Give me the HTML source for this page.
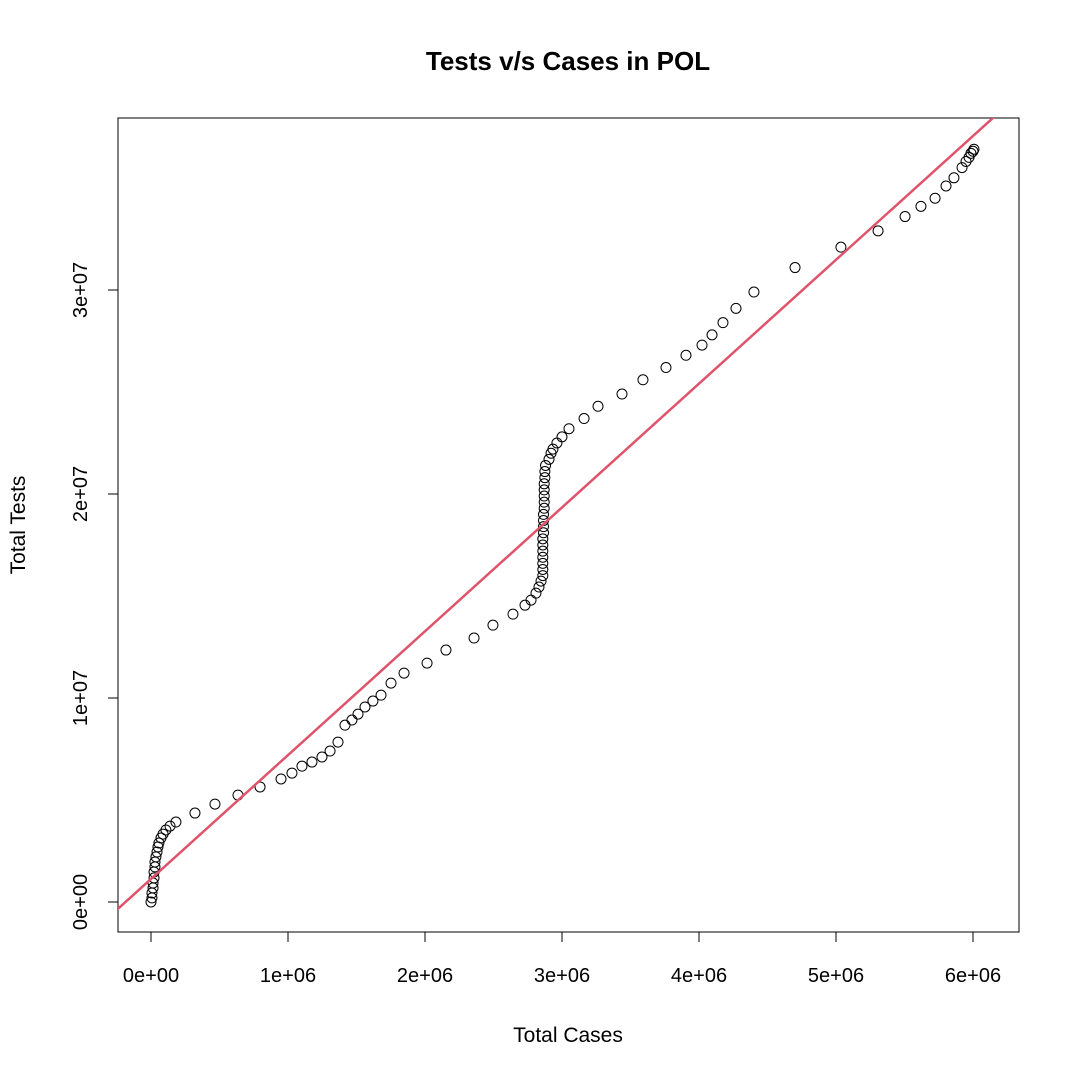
<!DOCTYPE html>
<html><head><meta charset="utf-8"><style>
html,body{margin:0;padding:0;background:#fff;}
svg text{font-family:"Liberation Sans",Arial,sans-serif;fill:#000;}
</style></head><body>
<svg id="chart" width="1080" height="1080" viewBox="0 0 1080 1080" xmlns="http://www.w3.org/2000/svg">
<rect width="1080" height="1080" fill="#fff"/>
<text x="568" y="70" text-anchor="middle" font-size="26" font-weight="bold">Tests v/s Cases in POL</text>
<text x="568" y="1042" text-anchor="middle" font-size="21">Total Cases</text>
<text transform="translate(25,525) rotate(-90)" text-anchor="middle" font-size="21">Total Tests</text>
<rect x="118" y="118" width="901" height="814" fill="none" stroke="#000" stroke-width="1"/>
<g id="xticks"></g><g id="yticks"></g>
<defs><clipPath id="clip"><rect x="118" y="118" width="901" height="814"/></clipPath></defs>
<g id="points"></g>
<g id="fit" clip-path="url(#clip)"></g>
</svg>
<script>
const xTicks=[0,1e6,2e6,3e6,4e6,5e6,6e6];
const xTickLabels=["0e+00","1e+06","2e+06","3e+06","4e+06","5e+06","6e+06"];
const yTicks=[0,1e7,2e7,3e7];
const yTickLabels=["0e+00","1e+07","2e+07","3e+07"];
const casesM=[0,0.007,0.007,0.015,0.015,0.022,0.022,0.029,0.029,0.036,0.044,0.051,0.058,0.073,0.088,0.109,0.139,0.182,0.321,0.467,0.635,0.796,0.949,1.029,1.102,1.175,1.248,1.307,1.365,1.416,1.467,1.511,1.562,1.620,1.679,1.752,1.847,2.015,2.153,2.358,2.496,2.642,2.730,2.774,2.810,2.832,2.847,
2.86,2.86,2.86,2.86,2.86,2.86,2.86,2.865,2.865,2.865,2.865,2.87,2.87,2.87,2.87,2.87,2.875,2.875,2.88,
2.905,2.92,2.934,2.963,3.000,3.051,3.161,3.263,3.438,3.591,3.759,3.905,4.022,4.095,4.175,4.270,4.401,4.701,5.036,5.307,5.504,5.620,5.723,5.803,5.861,5.920,5.949,5.971,5.985,6.000,6.007];
const testsM=[0,0.20,0.44,0.69,0.93,1.18,1.47,1.72,1.96,2.21,2.45,2.70,2.89,3.14,3.33,3.53,3.72,3.92,4.36,4.80,5.24,5.64,6.03,6.32,6.66,6.86,7.11,7.40,7.84,8.67,8.92,9.21,9.56,9.85,10.14,10.73,11.22,11.71,12.35,12.94,13.57,14.11,14.55,14.80,15.14,15.44,15.73,
16.0,16.3,16.6,16.9,17.2,17.5,17.8,18.1,18.4,18.7,19.0,19.3,19.6,19.9,20.2,20.5,20.8,21.1,21.4,
21.7,22.0,22.2,22.5,22.8,23.2,23.7,24.3,24.9,25.6,26.2,26.8,27.3,27.8,28.4,29.1,29.9,31.1,32.1,32.9,33.6,34.1,34.5,35.1,35.5,36.0,36.3,36.5,36.7,36.8,36.9];
const fitIntercept=1.13e6;
const fitSlope=6.07;
const NS="http://www.w3.org/2000/svg";
function xs(v){return 151+v/1e6*137;}
function ys(v){return 902-v/1e7*204;}
function mk(tag,attrs,parent){const e=document.createElementNS(NS,tag);for(const k in attrs)e.setAttribute(k,attrs[k]);parent.appendChild(e);return e;}
const xg=document.getElementById('xticks'),yg=document.getElementById('yticks');
mk('line',{x1:xs(xTicks[0]),x2:xs(xTicks[xTicks.length-1]),y1:932,y2:932,stroke:'#000'},xg);
xTicks.forEach((t,i)=>{
 const l=mk('line',{x1:xs(t),x2:xs(t),y1:932,y2:942,stroke:'#000'},xg);
 
 
 const tx=mk('text',{x:xs(t),y:982,'text-anchor':'middle','font-size':'20'},xg);
 tx.textContent=xTickLabels[i];
 
 
});
mk('line',{x1:118,x2:118,y1:ys(yTicks[0]),y2:ys(yTicks[yTicks.length-1]),stroke:'#000'},yg);
yTicks.forEach((t,i)=>{
 const l=mk('line',{x1:108,x2:118,y1:ys(t),y2:ys(t),stroke:'#000'},yg);
 
 
 const tx=mk('text',{transform:`translate(87,${ys(t)}) rotate(-90)`,'text-anchor':'middle','font-size':'20'},yg);
 tx.textContent=yTickLabels[i];
 
 
});
const pg=document.getElementById('points');
casesM.forEach((c,i)=>{
 const p=mk('circle',{cx:xs(c*1e6),cy:ys(testsM[i]*1e6),r:5,fill:'none',stroke:'#000','stroke-width':1},pg);
 
 
});
const fg=document.getElementById('fit');
const x0=-0.3e6,x1=6.5e6;
const fl=mk('line',{x1:xs(x0),y1:ys(fitIntercept+fitSlope*x0),x2:xs(x1),y2:ys(fitIntercept+fitSlope*x1),stroke:'#DF536B','stroke-width':2.5},fg);


</script>
</body></html>
